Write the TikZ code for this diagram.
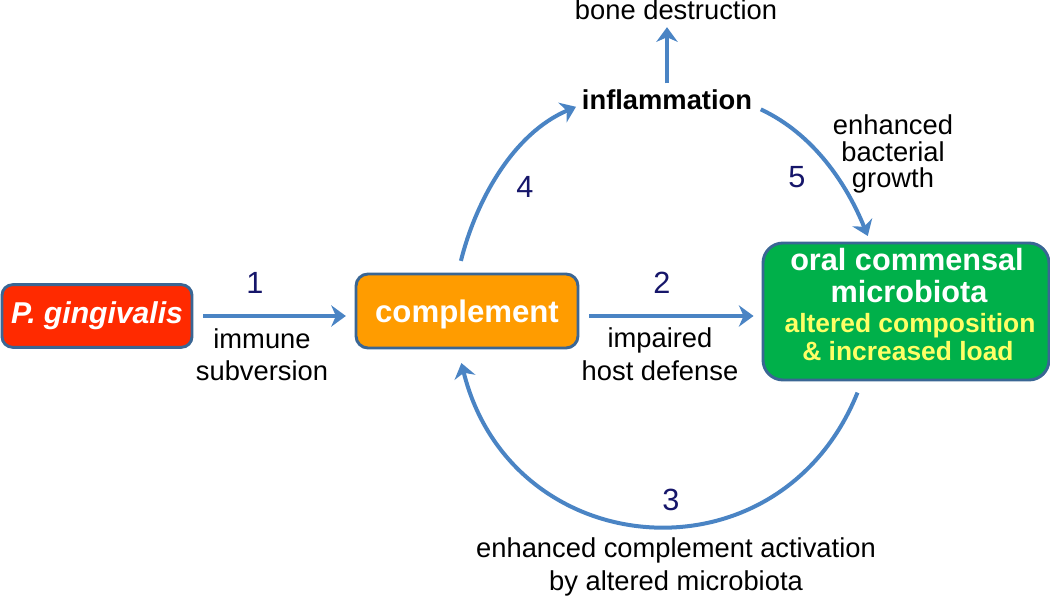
\documentclass[tikz,border=0pt]{standalone}
\usepackage{fontspec}
\setmainfont{Liberation Sans}
\usetikzlibrary{arrows.meta,calc}
\definecolor{arrowblue}{HTML}{4A84C4}
\definecolor{boxedge}{HTML}{3A6694}
\definecolor{pgred}{HTML}{FF2A00}
\definecolor{cplorange}{HTML}{FF9C00}
\definecolor{mbgreen}{HTML}{00B04A}
\definecolor{lbyellow}{HTML}{FFFF66}
\definecolor{numnavy}{HTML}{16166A}
\begin{document}
\begin{tikzpicture}[x=0.75pt,y=0.75pt,
  box/.style={draw=boxedge,line width=2.2pt,inner sep=0pt},
  arr/.style={draw=arrowblue,line width=3pt,-{Stealth[length=11pt,width=16pt,inset=3.5pt]}},
  lbl/.style={inner sep=0pt,anchor=base,font=\fontsize{20.5}{24}\selectfont},
  num/.style={inner sep=0pt,anchor=base,text=numnavy,font=\fontsize{23}{24}\selectfont},
  boxtxt/.style={inner sep=0pt,anchor=base,font=\bfseries\fontsize{23}{24}\selectfont,text=white},
  yeltxt/.style={inner sep=0pt,anchor=base,font=\bfseries\fontsize{19.8}{22}\selectfont,text=lbyellow}
]
\useasboundingbox (0,0) rectangle (1050,-599);

% boxes
\node[box,fill=pgred,rounded corners=8pt,minimum width=142.5pt,minimum height=47pt,
      text=white,font=\bfseries\itshape\fontsize{22.6}{24}\selectfont] (pg) at (97,-316) {P. gingivalis};
\node[box,fill=cplorange,rounded corners=9pt,minimum width=166.5pt,minimum height=55.5pt,
      text=white,text depth=0pt,font=\bfseries\fontsize{23.4}{24}\selectfont] (cpl) at (467,-311) {complement};
\node[box,fill=mbgreen,rounded corners=15pt,minimum width=214.5pt,minimum height=102.75pt] (grn) at (906,-311.5) {};
\node[boxtxt] (g1) at (907,-270) {oral commensal};
\node[boxtxt] (g2) at (909,-302) {microbiota};
\node[yeltxt] (g3) at (910,-332) {altered composition};
\node[yeltxt] (g4) at (908,-360) {\& increased load};

% text nodes
\node[inner sep=0pt,anchor=base,font=\bfseries\fontsize{20.5}{24}\selectfont] (infl) at (667,-110) {inflammation};
\node[lbl] (bone) at (676,-20) {bone destruction};

% numbers
\node[num] (n1) at (255,-293) {1};
\node[num] (n2) at (662,-293) {2};
\node[num] (n3) at (671,-510) {3};
\node[num] (n4) at (525,-198) {4};
\node[num] (n5) at (797,-188) {5};

% labels
\node[lbl] (l1a) at (262,-348) {immune};
\node[lbl] (l1b) at (262,-380) {subversion};
\node[lbl] (l2a) at (660,-347) {impaired};
\node[lbl] (l2b) at (660,-380) {host defense};
\node[lbl] (l5a) at (893,-135) {enhanced};
\node[lbl] (l5b) at (893,-162) {bacterial};
\node[lbl] (l5c) at (893,-188) {growth};
\node[lbl] (l3a) at (676,-557) {enhanced complement activation};
\node[lbl] (l3b) at (676,-590) {by altered microbiota};

% connectors
\draw[arr,shorten <=7.5pt,shorten >=6.5pt] (pg.east) -- (pg.east -| cpl.west);
\draw[arr,shorten <=7.5pt,shorten >=6pt] (cpl.east |- pg.east) -- (pg.east -| grn.west);
\draw[arr,shorten <=5pt,shorten >=5pt] (infl.north) -- (infl.north |- bone.south);
\draw[arr,shorten <=9pt,shorten >=3pt] ([shift={(-9,0)}]cpl.north) to[out=76,in=203,looseness=0.9] ([shift={(-2,-5)}]infl.west);
\draw[arr,shorten <=2pt,shorten >=4.5pt] ([shift={(6,-8)}]infl.east) to[out=-25,in=112,looseness=0.9] ([shift={(-36,0)}]grn.north);
\draw[arr,shorten <=9pt,shorten >=10.5pt] ([shift={(-44,0)}]grn.south) to[out=248,in=284,looseness=1.4] ([shift={(-9,0)}]cpl.south);
\end{tikzpicture}
\end{document}
